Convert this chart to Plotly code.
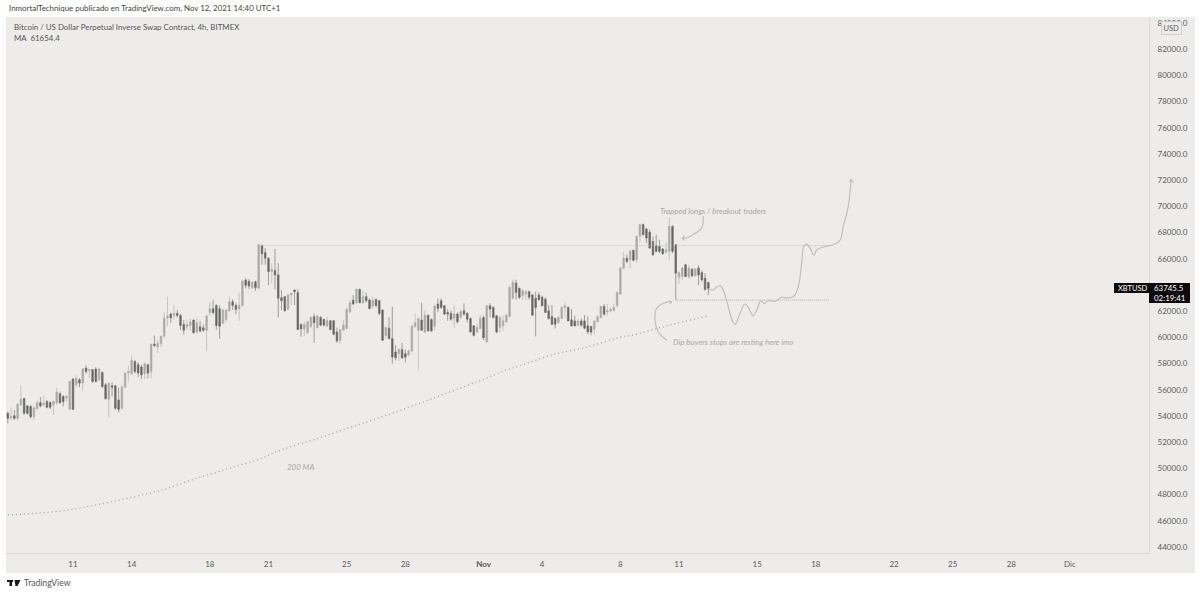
import pandas as pd
import plotly.graph_objects as go

W, H = 1200, 595
PANEL = '#edeceb'
EDGE = '#dcdbda'
TEXT = '#5a5a5a'
NOTE = '#a8a8a8'
FONT = 'Lato, "Open Sans", sans-serif'

# 4h candles, starting Oct 7 16:00
first_candle = '2021-10-07 16:00'
opens = [
    54210, 53850, 54020, 53820, 54850, 55330, 54770, 54720, 53950, 54560,
    55020, 54870, 55100, 55020, 54850, 55020, 55690, 55490, 55380, 54510,
    56820, 56380, 56770, 56510, 57660, 57480, 57540, 57580, 56760, 57330,
    56380, 55280, 56300, 56300, 55230, 54590, 56200, 57280, 57230, 58170,
    57920, 57740, 57230, 57920, 57400, 59480, 59270, 59530, 60090, 61480,
    61780, 61680, 61830, 61680, 60990, 60810, 60910, 61320, 60400, 60810,
    60730, 60550, 61890, 62190, 62450, 62190, 61070, 61370, 62040, 62730,
    62450, 62190, 62450, 64390, 64290, 63800, 64240, 63750, 67000, 66490,
    66050, 65030, 65110, 64770, 63030, 63110, 62140, 63240, 63620, 63420,
    60990, 60650, 60350, 60810, 61580, 60760, 61520, 61370, 60860, 61270,
    61270, 60420, 59780, 60550, 60680, 61960, 62850, 62650, 63670, 62650,
    63110, 62850, 62390, 62900, 62800, 62090, 60140, 60700, 59910, 58890,
    58760, 59070, 58760, 58660, 58960, 60810, 60550, 61320, 60420, 61700,
    61370, 60860, 62550, 62800, 62420, 61900, 61830, 61440, 61780, 61520,
    62030, 61850, 61440, 60880, 60420, 60680, 61520, 59650, 62420, 62290,
    61650, 60750, 60880, 61190, 61600, 62980, 64160, 63750, 63180, 63310,
    63490, 63240, 62980, 63240, 63060, 62920, 62030, 61600, 61440, 61140,
    61440, 62290, 62290, 61340, 61260, 60930, 61260, 61260, 60880, 60830,
    60620, 61190, 61520, 62360, 61960, 62030, 62080, 62420, 63310, 65290,
    66050, 65930, 66650, 65930, 67720, 68610, 68280, 68030, 67330, 67000,
    66950, 66750, 66490, 66570, 68490, 67080, 64600, 64650, 65540, 64600,
    65210, 64700, 65290, 64950, 64520, 64190,
]
highs = [
    54330, 54670, 54460, 54970, 56300, 55380, 54850, 54850, 54770, 55180,
    55430, 55540, 55230, 55150, 55180, 56150, 55870, 55590, 55590, 56700,
    56900, 57100, 56890, 57660, 57870, 57580, 57580, 57740, 57710, 57400,
    56510, 56560, 56560, 56380, 56150, 56380, 57330, 57840, 58610, 58250,
    58100, 57920, 58100, 57990, 59530, 60140, 59790, 60140, 61940, 63110,
    61890, 62450, 62090, 61760, 61320, 61370, 61420, 61370, 61500, 61250,
    60990, 61760, 62700, 62860, 62520, 62450, 62190, 62140, 63110, 62910,
    62650, 63370, 64390, 64500, 64450, 64320, 64320, 67130, 67080, 66820,
    66100, 65670, 66750, 65670, 63620, 63160, 63320, 63420, 63670, 63670,
    61060, 61190, 61270, 61630, 61830, 61750, 61630, 61440, 61520, 61320,
    61320, 60760, 60680, 61320, 62220, 62850, 63240, 63720, 63720, 63570,
    63420, 62980, 63110, 62980, 62850, 62140, 60810, 61520, 62340, 59400,
    59150, 59580, 59070, 59070, 60930, 61830, 61500, 62650, 62090, 61750,
    61440, 62470, 62980, 62980, 62470, 62160, 62030, 62420, 61900, 62160,
    62620, 61900, 61520, 60930, 61010, 61700, 61650, 62470, 62620, 62360,
    61700, 61650, 61650, 61780, 63900, 64410, 64410, 63820, 63700, 63640,
    63570, 63310, 63490, 63440, 63180, 63060, 62470, 62470, 61520, 61650,
    62360, 62720, 62360, 62160, 61650, 61390, 61440, 61700, 61600, 60880,
    61310, 61650, 62420, 62540, 62540, 62290, 62540, 63490, 65410, 66490,
    66310, 66690, 66690, 67770, 68690, 68690, 68360, 68230, 67720, 67850,
    67460, 66820, 67210, 69200, 68540, 67130, 65030, 65370, 65620, 65540,
    65290, 65290, 65490, 65110, 64900, 64260,
]
lows = [
    53440, 53690, 53690, 53640, 54770, 54080, 54080, 53820, 53690, 54510,
    54670, 54720, 54590, 54510, 54080, 54850, 54920, 54720, 55100, 54460,
    54460, 56250, 56200, 55890, 57230, 56890, 56510, 56560, 56710, 56130,
    55230, 53900, 55490, 54460, 54260, 54510, 56130, 56640, 57150, 57230,
    56970, 56820, 56820, 56890, 56890, 59270, 58810, 59270, 59970, 60860,
    61120, 61370, 61500, 60550, 60220, 60550, 60480, 60300, 60300, 60400,
    60400, 58940, 61630, 61760, 60600, 59890, 61070, 61170, 61940, 62090,
    61760, 61250, 62350, 63730, 63680, 63680, 63550, 63670, 65540, 65540,
    64000, 64130, 63670, 61520, 62090, 61960, 62090, 62470, 62470, 60550,
    60040, 60090, 60300, 60760, 59580, 60680, 60860, 60810, 60810, 60550,
    60160, 59580, 59480, 60500, 60600, 61830, 62470, 62550, 62600, 62550,
    62650, 62140, 62210, 62290, 61700, 59730, 59910, 59830, 57990, 58240,
    58210, 58380, 58090, 58600, 58880, 60760, 57480, 60500, 60300, 60420,
    60420, 60550, 61960, 62160, 61700, 61260, 61260, 60750, 61080, 61390,
    61650, 61140, 60370, 60060, 60320, 60620, 59800, 59600, 61520, 61440,
    60320, 60370, 60500, 61140, 61520, 62920, 62880, 62920, 62880, 62880,
    62880, 61650, 60060, 62800, 62360, 61900, 61340, 60930, 60680, 61080,
    61390, 61520, 61260, 60830, 60830, 60830, 60830, 60620, 60240, 60160,
    60240, 61140, 61440, 61650, 61650, 61900, 61960, 62290, 63240, 65160,
    65670, 65290, 65800, 65670, 67260, 67770, 67210, 66750, 66230, 66490,
    66440, 66310, 66440, 65930, 66440, 62850, 64080, 64390, 64600, 64520,
    64600, 64650, 64000, 64260, 63570, 63240,
]
closes = [
    53820, 53950, 53820, 54900, 55280, 54210, 54210, 53950, 54620, 55020,
    54770, 54970, 54670, 54670, 55100, 55790, 55020, 55100, 55490, 56640,
    54510, 56890, 56510, 57580, 57400, 57540, 56640, 56640, 57580, 56250,
    55330, 56510, 56200, 54590, 54510, 56200, 57280, 57400, 58250, 57400,
    57280, 57150, 57990, 57280, 59480, 59380, 59530, 60090, 61480, 61630,
    61500, 61830, 61680, 60910, 60550, 60990, 61170, 60350, 61120, 60480,
    60550, 61630, 62190, 61890, 60910, 60860, 62090, 62090, 62730, 62450,
    62140, 62450, 64290, 63980, 63930, 64190, 63800, 67080, 66390, 66050,
    65030, 65210, 64770, 62980, 62800, 62040, 63240, 63370, 63490, 60600,
    60650, 60990, 61190, 61520, 61110, 61630, 60940, 60940, 61270, 60600,
    60240, 59730, 60600, 60940, 62140, 62650, 62550, 63670, 62650, 63110,
    62800, 62210, 62800, 62440, 61830, 59780, 60760, 59910, 58500, 58450,
    59070, 58430, 58500, 58960, 60860, 61110, 61450, 60550, 61700, 60500,
    60500, 62390, 62210, 62290, 61780, 61780, 61390, 61780, 61190, 61960,
    61780, 61390, 60420, 60160, 60750, 61440, 59980, 62420, 62160, 61520,
    60420, 61520, 61260, 61700, 63820, 64210, 63440, 63060, 63570, 63490,
    63060, 61700, 62290, 62880, 62420, 61900, 61440, 61010, 61010, 61520,
    62290, 62420, 61260, 60880, 60880, 61260, 60930, 60700, 60420, 60420,
    61260, 61600, 62360, 61780, 62030, 62160, 62290, 63440, 65290, 66050,
    65800, 66570, 65880, 67720, 68610, 67850, 67590, 66820, 66310, 66570,
    66570, 66390, 66690, 68490, 66570, 64900, 64950, 65290, 64650, 65290,
    64700, 65210, 64770, 64390, 63670, 63745.5,
]

# 200 MA, read every few candles
ma_index = [0, 8, 17, 27, 38, 48, 57, 67, 77, 84, 95, 105, 115, 125, 136, 146,
            153, 157, 167, 178, 188, 192, 202, 215]
ma_values = [46440, 46570, 46770, 47210, 47790, 48400, 49170, 49930, 50700, 51420,
             52280, 53120, 53950, 54840, 55860, 56800, 57510, 57820, 58660, 59270,
             60030, 60180, 60870, 61654.4]

# drawings on the chart
path_dates = ['2021-11-12 13:00', '2021-11-12 18:00', '2021-11-12 22:00', '2021-11-13 03:00',
              '2021-11-13 07:00', '2021-11-13 12:30', '2021-11-13 18:00', '2021-11-13 21:00',
              '2021-11-14 02:00', '2021-11-14 09:00', '2021-11-14 13:00', '2021-11-14 19:15',
              '2021-11-15 00:15', '2021-11-15 04:15', '2021-11-15 08:45', '2021-11-15 13:45',
              '2021-11-15 21:50', '2021-11-16 06:00', '2021-11-16 14:15', '2021-11-16 21:10',
              '2021-11-17 02:30', '2021-11-17 06:35', '2021-11-17 09:30', '2021-11-17 12:45',
              '2021-11-17 16:50', '2021-11-17 21:45', '2021-11-18 01:00', '2021-11-18 09:10',
              '2021-11-18 15:20', '2021-11-18 21:30', '2021-11-19 05:40', '2021-11-19 09:45',
              '2021-11-19 15:50', '2021-11-19 19:10']
path_prices = [63670, 63620, 63830, 63930, 63490, 62340, 61190, 60990, 61700, 62550,
               62290, 61650, 62210, 62800, 62600, 62800, 62750, 63060, 63010, 63160,
               63880, 65670, 67000, 67100, 66820, 66280, 66690, 66900, 67000, 67080,
               67410, 68490, 70020, 72000]
path_head_dates = ['2021-11-19 17:30', '2021-11-19 19:10', '2021-11-19 22:00']
path_head_prices = [71870, 72070, 71800]

trapped_dates = ['2021-11-12 05:50', '2021-11-12 03:50', '2021-11-11 17:35', '2021-11-11 09:25', '2021-11-11 04:05']
trapped_prices = [69250, 68360, 67850, 67590, 67590]
trapped_head_dates = ['2021-11-11 07:00', '2021-11-11 04:05', '2021-11-11 06:30']
trapped_head_prices = [67770, 67590, 67410]

dip_dates = ['2021-11-10 08:55', '2021-11-09 22:35', '2021-11-09 18:30', '2021-11-09 20:35', '2021-11-10 06:50', '2021-11-10 15:00']
dip_prices = [59780, 60420, 61320, 62210, 62650, 62730]
dip_head_dates = ['2021-11-10 12:00', '2021-11-10 15:00', '2021-11-10 13:00']
dip_head_prices = [62780, 62700, 62550]

upper_level = 67000
lower_level = 62850
upper_level_dates = ['2021-10-20 12:00', '2021-11-18 17:00']
lower_level_dates = ['2021-11-10 20:00', '2021-11-18 17:00']

# axis labels, 64000 sits behind the last price box
price_ticks = [p for p in range(44000, 86000, 2000) if p != 64000]
price_labels = ['%d.0' % p for p in price_ticks]
date_ticks = ['2021-10-11', '2021-10-14', '2021-10-18', '2021-10-21', '2021-10-25', '2021-10-28',
              '2021-11-01', '2021-11-04', '2021-11-08', '2021-11-11', '2021-11-15', '2021-11-18',
              '2021-11-22', '2021-11-25', '2021-11-28', '2021-12-01']
date_labels = ['11', '14', '18', '21', '25', '28', '<b>Nov</b>', '4', '8', '11', '15', '18', '22', '25', '28', 'Dic']

PLOT_L, PLOT_R, PLOT_T, PLOT_B = 6, 1149, 17, 553


def px(x):
    return (x - PLOT_L) / (PLOT_R - PLOT_L)


def py(y):
    return (PLOT_B - y) / (PLOT_B - PLOT_T)


dates = pd.date_range(first_candle, periods=len(opens), freq='4h')

fig = go.Figure()

fig.add_trace(go.Candlestick(
    x=dates, open=opens, high=highs, low=lows, close=closes,
    increasing=dict(line=dict(color='#aaaaaa', width=0.6), fillcolor='#aaaaaa'),
    decreasing=dict(line=dict(color='#666666', width=0.6), fillcolor='#666666'),
    whiskerwidth=0, showlegend=False, hoverinfo='skip'))

fig.add_scatter(x=[dates[i] for i in ma_index], y=ma_values, mode='lines',
                line=dict(color='#a0a0a0', width=1.3, dash='1px 3px', shape='spline'))
fig.add_scatter(x=upper_level_dates, y=[upper_level, upper_level], mode='lines',
                line=dict(color='#bdbdbd', width=0.8, dash='1px 1px'))
fig.add_scatter(x=lower_level_dates, y=[lower_level, lower_level], mode='lines',
                line=dict(color='#a5a5a5', width=0.8, dash='1px 1px'))
for xs, ys, shape in [(path_dates, path_prices, 'spline'), (path_head_dates, path_head_prices, 'linear'),
                      (trapped_dates, trapped_prices, 'spline'), (trapped_head_dates, trapped_head_prices, 'linear'),
                      (dip_dates, dip_prices, 'spline'), (dip_head_dates, dip_head_prices, 'linear')]:
    fig.add_scatter(x=xs, y=ys, mode='lines', line=dict(color='#bcbcbc', width=1.1, shape=shape))

fig.update_layout(
    width=W, height=H, autosize=False, showlegend=False,
    margin=dict(l=PLOT_L, r=W - PLOT_R, t=PLOT_T, b=H - PLOT_B, pad=0),
    paper_bgcolor='white', plot_bgcolor=PANEL,
    font=dict(family=FONT, size=8, color=TEXT),
    xaxis=dict(type='date', range=['2021-10-07 13:45', '2021-12-05 01:00'],
               tickmode='array', tickvals=date_ticks, ticktext=date_labels,
               showgrid=False, zeroline=False, rangeslider=dict(visible=False),
               ticks='outside', ticklen=3, tickcolor='rgba(0,0,0,0)',
               showline=True, linecolor=EDGE, linewidth=1),
    yaxis=dict(side='right', range=[43542, 84458],
               tickmode='array', tickvals=price_ticks, ticktext=price_labels,
               showgrid=False, zeroline=False,
               ticks='outside', ticklen=6, tickcolor='rgba(0,0,0,0)',
               showline=True, linecolor=EDGE, linewidth=1),
)

# strips under the axis labels, logo and last price boxes
fig.add_shape(type='rect', xref='paper', yref='paper', layer='below', line_width=0, fillcolor=PANEL,
              x0=px(6), x1=px(1195), y0=py(573), y1=py(553))
fig.add_shape(type='rect', xref='paper', yref='paper', layer='below', line_width=0, fillcolor=PANEL,
              x0=px(1149), x1=px(1195), y0=py(573), y1=py(17))
fig.add_shape(type='rect', xref='paper', yref='paper', line_width=0, fillcolor='#0b0b0b',
              x0=px(1149), x1=px(1190), y0=py(303), y1=py(283))
fig.add_shape(type='rect', xref='paper', yref='paper', line_width=0, fillcolor='#0b0b0b',
              x0=px(1114), x1=px(1149), y0=py(293), y1=py(283))
for x0, x1, y0, y1 in [(7, 13, 580, 582), (9.5, 12, 582, 586)]:
    fig.add_shape(type='rect', xref='paper', yref='paper', line_width=0, fillcolor='#1a1a1a',
                  x0=px(x0), x1=px(x1), y0=py(y1), y1=py(y0))
fig.add_shape(type='path', xref='paper', yref='paper', line_width=0, fillcolor='#1a1a1a',
              path='M %f %f L %f %f L %f %f L %f %f Z' % (px(14.5), py(580), px(20.5), py(580), px(17.5), py(586), px(15.5), py(586)))


def label(x, y, text, size=7.9, color=TEXT, anchor='left', **kw):
    fig.add_annotation(xref='paper', yref='paper', x=px(x), y=py(y), text=text, showarrow=False,
                       xanchor=anchor, yanchor='middle', font=dict(size=size, color=color), **kw)


label(7, 8.5, 'InmortalTechnique publicado en TradingView.com, Nov 12, 2021 14:40 UTC+1', color='#444444')
label(12, 27, 'Bitcoin / US Dollar Perpetual Inverse Swap Contract, 4h, BITMEX', color='#555555')
label(12, 38, 'MA&nbsp;&nbsp;61654.4', color='#555555')
label(658, 211, '<i>Trapped longs / breakout traders</i>', color=NOTE)
label(671, 342, '<i>Dip buyers stops are resting here imo</i>', color=NOTE)
label(285, 467, '<i>200 MA</i>', color=NOTE)
label(22, 583, 'TradingView', size=8.6, color='#555555')
label(1151.5, 288, '63745.5', color='white')
label(1151.5, 298, '02:19:41', color='white')
label(1116, 288, 'XBTUSD', color='white', size=7.5)
label(1171, 28, 'USD', size=7.5, anchor='center', bgcolor=PANEL, bordercolor='#cfcfcf', borderwidth=1, borderpad=1.5)

fig.write_html("out.html", config={'displayModeBar': False}, post_script="document.body.style.margin = '0';")
